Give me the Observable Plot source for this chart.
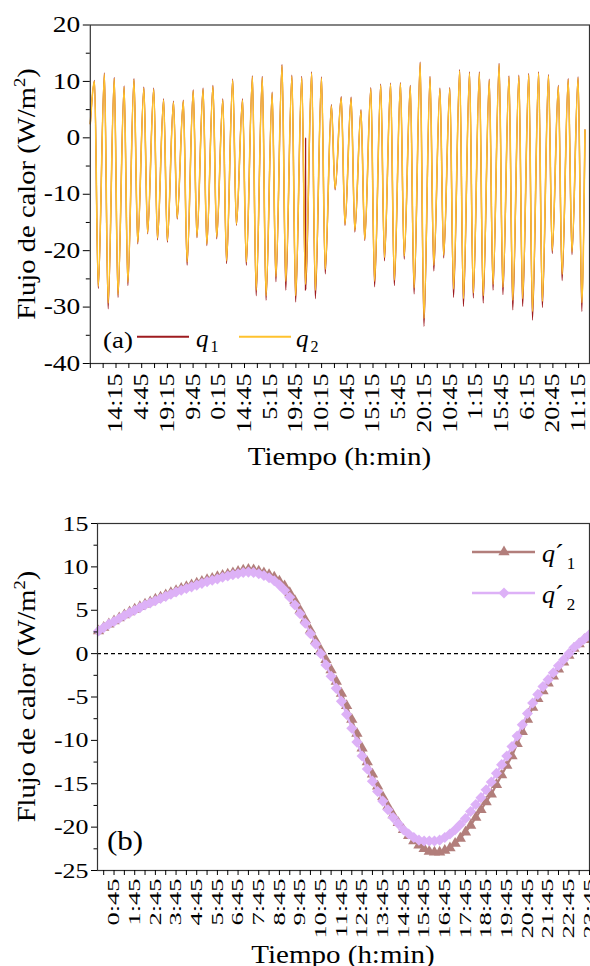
<!DOCTYPE html>
<html><head><meta charset="utf-8">
<script src="https://cdn.jsdelivr.net/npm/d3@7"></script>
<script src="https://cdn.jsdelivr.net/npm/@observablehq/plot@0.6"></script>
<style>
body{margin:0;background:#fff;overflow:hidden}
#wrap{position:relative;width:590px;height:966px;overflow:hidden;background:#fff}
#wrap svg{position:absolute;left:0}
</style></head><body><div id="wrap"></div>
<script>
// ---------- Chart (a): daily extremes of q1 and q2 (W/m2) ----------
const q2Peak = [10.0, 11.3, 10.5, 9.0, 10.3, 8.8, 8.6, 6.7, 6.3, 6.5,
  8.3, 8.6, 9.1, 6.7, 10.2, 6.7, 10.8, 10.7, 7.9, 12.8,
  10.9, 10.7, 11.5, 10.6, 5.7, 7.1, 7.0, 4.8, 8.7, 9.3,
  9.5, 9.6, 9.1, 13.2, 10.7, 8.6, 8.7, 11.9, 11.5, 11.5,
  10.2, 13.0, 10.8, 10.9, 11.2, 11.5, 11.0, 9.1, 10.3, 10.6];
const q1Peak = [10.2, 11.5, 10.7, 9.2, 10.5, 9.0, 8.8, 6.9, 6.5, 6.7,
  8.5, 8.8, 9.3, 6.9, 10.4, 6.9, 11.0, 10.9, 8.1, 13.0,
  11.1, 10.9, 11.7, 10.8, 5.9, 7.3, 7.2, 5.0, 8.9, 9.5,
  9.7, 9.8, 9.3, 13.4, 10.9, 8.8, 8.9, 12.1, 11.7, 11.7,
  10.4, 13.2, 11.0, 11.1, 11.4, 11.7, 11.2, 9.3, 10.5, 10.8];
const q1Trough = [-26.7, -30.3, -28.3, -26.2, -18.8, -17.0, -18.1, -18.5, -14.4, -22.6,
  -17.7, -19.1, -17.9, -22.3, -15.5, -22.6, -28.0, -28.8, -25.5, -27.0,
  -29.1, -27.1, -28.5, -24.1, -9.2, -15.5, -16.7, -18.2, -26.4, -21.8,
  -26.2, -21.5, -27.7, -33.4, -23.6, -21.3, -28.3, -29.9, -28.4, -29.3,
  -27.0, -27.8, -30.5, -29.9, -32.3, -30.1, -20.5, -25.3, -20.7, -30.8];
const q2Trough = [-26.3, -29.3, -27.8, -25.6, -18.5, -16.8, -17.8, -18.2, -14.2, -22.0,
  -17.5, -18.8, -17.6, -21.8, -15.3, -22.0, -27.0, -28.0, -24.6, -25.4,
  -28.0, -26.0, -27.0, -23.3, -9.0, -15.3, -16.4, -18.0, -25.4, -21.2,
  -25.2, -21.0, -26.6, -32.0, -22.6, -20.8, -26.8, -28.5, -27.5, -28.0,
  -26.0, -26.5, -28.8, -28.5, -30.8, -29.0, -20.0, -24.2, -20.2, -29.2];
const seriesStart = [2.5, 2.5];      // q1, q2 first reading (h = 0)
const seriesEnd = [1.4, 1.4];        // q1, q2 last reading
const endHour = 1203;
const peakHour = 10.3, troughHour = 19.3;   // hour of day of extremes
const q1Glitch = [[523.6, 0], [523.9, -26.9]]; // spurious q1 reading (hour, value)
const topXLabels = ["14:15","4:45","19:15","9:45","0:15","14:45","5:15","19:45","10:15","0:45",
  "15:15","5:45","20:15","10:45","1:15","15:45","6:15","20:45","11:15"];
const topLabelStep = 62.5; // hours between labelled ticks
const topYTicks = [-40, -30, -20, -10, 0, 10, 20];
const topYMinor = [-35, -25, -15, -5, 5, 15];

// ---------- Chart (b): mean daily profile q'1, q'2 every 15 min ----------
const q1p = [2.6,3.0,3.4,3.75, 4.1,4.45,4.8,5.1, 5.4,5.7,5.95,6.25, 6.5,6.75,7.0,7.25,
  7.5,7.7,7.9,8.1, 8.3,8.5,8.65,8.85, 9.0,9.15,9.3,9.45, 9.6,9.7,9.65,9.5,
  9.3,9.1,8.8,8.35, 7.8,7.0,6.1,5.0, 3.9,2.7,1.5,0.4, -0.7,-1.9,-3.2,-4.6,
  -6.0,-7.6,-9.2,-10.9, -12.5,-13.9,-15.3,-16.5, -17.6,-18.6,-19.5,-20.3, -21.0,-21.6,-22.1,-22.5,
  -22.8,-22.9,-22.9,-22.7, -22.4,-21.9,-21.3,-20.6, -19.8,-18.9,-18.0,-17.1, -16.2,-15.1,-14.0,-12.9,
  -11.8,-10.4,-9.0,-7.6, -6.2,-5.2,-4.3,-3.4, -2.6,-1.8,-1.0,-0.2, 0.6,1.1,1.6,2.1];
const q2p = [2.6,3.0,3.4,3.7, 4.05,4.4,4.7,5.0, 5.3,5.6,5.85,6.1, 6.35,6.6,6.85,7.1,
  7.3,7.5,7.7,7.9, 8.1,8.3,8.45,8.6, 8.8,8.95,9.1,9.2, 9.35,9.4,9.35,9.2,
  9.0,8.75,8.4,7.9, 7.3,6.5,5.6,4.6, 3.5,2.3,1.1,0.0, -1.3,-2.6,-4.0,-5.5,
  -7.0,-8.6,-10.2,-11.8, -13.3,-14.7,-15.9,-17.0, -18.0,-18.9,-19.6,-20.3, -20.8,-21.2,-21.5,-21.6,
  -21.6,-21.6,-21.5,-21.2, -20.8,-20.3,-19.7,-19.0, -18.2,-17.4,-16.6,-15.7, -14.8,-13.8,-12.8,-11.8,
  -10.7,-9.5,-8.2,-6.9, -5.7,-4.7,-3.8,-3.0, -2.2,-1.4,-0.7,0.0, 0.7,1.2,1.7,2.2];
const stepHours = 0.25;
const botXLabels = ["0:45","1:45","2:45","3:45","4:45","5:45","6:45","7:45","8:45","9:45","10:45","11:45",
  "12:45","13:45","14:45","15:45","16:45","17:45","18:45","19:45","20:45","21:45","22:45","23:45"];
const botYTicks = [-25, -20, -15, -10, -5, 0, 5, 10, 15];
const botYMinor = [-22.5, -17.5, -12.5, -7.5, -2.5, 2.5, 7.5, 12.5];

// ---------- styles ----------
const RED = "#9E1B1F", YEL = "#FFC22E", BROWN = "#B27E7B", VIOLET = "#DDB1F7";

function pickFont(cands) {
  const c = document.createElement("canvas").getContext("2d");
  const probe = "Flujo de calor (W/m) 0123456789 Tiempo";
  c.font = "40px monospace"; const b1 = c.measureText(probe).width;
  c.font = "40px sans-serif"; const b2 = c.measureText(probe).width;
  for (const f of cands) {
    c.font = `40px "${f}", monospace`; const w1 = c.measureText(probe).width;
    c.font = `40px "${f}", sans-serif`; const w2 = c.measureText(probe).width;
    if (w1 !== b1 || w2 !== b2) return f;
  }
  return "serif";
}
const FACE = pickFont(["Liberation Serif", "Times New Roman", "Tinos", "Times", "Nimbus Roman", "FreeSerif", "DejaVu Serif"]);
const FONT = `"${FACE}", serif`;

function buildSeries(peaks, troughs, start, end, extra) {
  const s = [{t: 0, v: start}];
  peaks.forEach((p, d) => {
    s.push({t: 24 * d + peakHour, v: p});
    s.push({t: 24 * d + troughHour, v: troughs[d]});
  });
  s.push({t: endHour, v: end});
  (extra || []).forEach(([t, v]) => s.push({t, v}));
  return s.sort((a, b) => a.t - b.t);
}
const q1Series = buildSeries(q1Peak, q1Trough, seriesStart[0], seriesEnd[0], q1Glitch);
const q2Series = buildSeries(q2Peak, q2Trough, seriesStart[1], seriesEnd[1]);

const topXTicks = topXLabels.map((_, i) => topLabelStep * (i + 1));
const topXMinor = d3.range(0, 1214, topLabelStep / 2).filter(t => !topXTicks.includes(t));
const topLabelMap = new Map(topXTicks.map((t, i) => [t, topXLabels[i]]));

const prof1 = q1p.map((v, i) => ({t: i * stepHours, v}));
const prof2 = q2p.map((v, i) => ({t: i * stepHours, v}));
const botXTicks = botXLabels.map((_, i) => 0.75 + i);
const botXMinor = botXLabels.map((_, i) => 0.25 + i);
const botLabelMap = new Map(botXTicks.map((t, i) => [t, botXLabels[i]]));

const baseStyle = {fontFamily: FONT, color: "#000", background: "transparent", overflow: "visible"};

const topSvg = Plot.plot({
  width: 590, height: 480,
  marginLeft: 89.8, marginRight: 1, marginTop: 24.5, marginBottom: 117,
  style: baseStyle,
  x: {domain: [0, 1214]},
  y: {domain: [-40, 20]},
  marks: [
    Plot.line(q1Series, {x: "t", y: "v", stroke: RED, strokeWidth: 1.3, curve: "monotone-x"}),
    Plot.line(q2Series, {x: "t", y: "v", stroke: YEL, strokeWidth: 1.6, curve: "monotone-x"}),
    Plot.frame({stroke: "#333", strokeWidth: 1.2}),
    Plot.axisY({ticks: topYTicks, tickSize: 7, tickPadding: 3, fontSize: 22.5, tickFormat: d => String(d), label: null}),
    Plot.axisY({ticks: topYMinor, tickSize: 4, tickFormat: () => "", label: null}),
    Plot.axisX({ticks: topXTicks, tickSize: 5, tickPadding: 5, tickRotate: -90, fontSize: 20,
      tickFormat: d => topLabelMap.get(d), label: null}),
    Plot.axisX({ticks: topXMinor, tickSize: 5, tickFormat: () => "", label: null})
  ]
});

const botSvg = Plot.plot({
  width: 590, height: 486,
  marginLeft: 97, marginRight: 1, marginTop: 43, marginBottom: 96,
  style: baseStyle,
  x: {domain: [-0.05, 23.75]},
  y: {domain: [-25, 15]},
  marks: [
    Plot.ruleY([0], {stroke: "#000", strokeWidth: 1.3, strokeDasharray: "4,3"}),
    Plot.line(prof1, {x: "t", y: "v", stroke: BROWN, strokeWidth: 2.2}),
    Plot.dot(prof1, {x: "t", y: "v", symbol: "triangle", fill: BROWN, r: 4.2}),
    Plot.line(prof2, {x: "t", y: "v", stroke: VIOLET, strokeWidth: 2.2}),
    Plot.dot(prof2, {x: "t", y: "v", symbol: "diamond2", fill: VIOLET, r: 5}),
    Plot.frame({stroke: "#333", strokeWidth: 1.2}),
    Plot.axisY({ticks: botYTicks, tickSize: 6, tickPadding: 3, fontSize: 22, tickFormat: d => String(d), label: null}),
    Plot.axisY({ticks: botYMinor, tickSize: 3.5, tickFormat: () => "", label: null}),
    Plot.axisX({ticks: botXTicks, tickSize: 5, tickPadding: 3, tickRotate: -90, fontSize: 16,
      tickFormat: d => botLabelMap.get(d), label: null}),
    Plot.axisX({ticks: botXMinor, tickSize: 5, tickFormat: () => "", label: null})
  ]
});

const wrap = document.getElementById("wrap");
topSvg.style.top = "0px";
botSvg.style.top = "480px";
wrap.appendChild(topSvg);
wrap.appendChild(botSvg);

function stretch(svg, aria, sx, sy) {
  svg.querySelectorAll(`g[aria-label="${aria}"] text`).forEach(t => {
    const tr = t.getAttribute("transform") || "";
    t.setAttribute("transform", tr + ` scale(${sx},${sy})`);
  });
}
stretch(topSvg, "y-axis tick label", 1.22, 1);
stretch(botSvg, "y-axis tick label", 1.18, 1);
stretch(topSvg, "x-axis tick label", 1.3, 1);
stretch(botSvg, "x-axis tick label", 1.65, 1);

function addText(svg, x, y, o) {
  const t = d3.select(svg).append("text")
    .attr("transform", `translate(${x},${y})` + (o.rotate ? ` rotate(${o.rotate})` : "") + ` scale(${o.sx || 1},1)`)
    .attr("font-family", FONT).attr("font-size", o.size)
    .attr("text-anchor", o.anchor || "start").attr("fill", "#000");
  for (const p of o.parts) {
    const s = t.append("tspan").text(p.t);
    if (p.size) s.attr("font-size", p.size);
    if (p.dy) s.attr("dy", p.dy);
    if (p.dx) s.attr("dx", p.dx);
    if (p.italic) s.attr("font-style", "italic");
  }
}
function addLine(svg, x1, x2, y, color, w) {
  d3.select(svg).append("line").attr("x1", x1).attr("x2", x2).attr("y1", y).attr("y2", y)
    .attr("stroke", color).attr("stroke-width", w);
}
function addSymbol(svg, x, y, sym, r, color) {
  d3.select(svg).append("path").attr("transform", `translate(${x},${y})`)
    .attr("d", d3.symbol(sym, Math.PI * r * r)()).attr("fill", color);
}
const yTitle = [{t: "Flujo de calor (W/m"}, {t: "2", size: 17, dy: -10}, {t: ")", dy: 10}];

// chart (a) annotations
addText(topSvg, 35, 194, {size: 26, anchor: "middle", rotate: -90, sx: 1.1, parts: yTitle});
addText(topSvg, 339.5, 465, {size: 25, anchor: "middle", sx: 1.16, parts: [{t: "Tiempo (h:min)"}]});
addText(topSvg, 103, 348, {size: 23, sx: 1.17, parts: [{t: "(a)"}]});
addLine(topSvg, 137, 189, 336.7, RED, 2);
addText(topSvg, 196, 347, {size: 25, parts: [{t: "q", italic: true}, {t: "1", size: 16, dy: 5, dx: 2}]});
addLine(topSvg, 239, 291, 336.7, YEL, 2);
addText(topSvg, 296, 347, {size: 25, parts: [{t: "q", italic: true}, {t: "2", size: 16, dy: 5, dx: 2}]});

// chart (b) annotations
addText(botSvg, 35, 216.5, {size: 26, anchor: "middle", rotate: -90, sx: 1.1, parts: yTitle});
addText(botSvg, 343, 483, {size: 25, anchor: "middle", sx: 1.16, parts: [{t: "Tiempo (h:min)"}]});
addText(botSvg, 107, 370, {size: 27, sx: 1.15, parts: [{t: "(b)"}]});
addLine(botSvg, 472, 535, 72, BROWN, 2.5);
addSymbol(botSvg, 504, 72, d3.symbolTriangle, 4.2, BROWN);
addText(botSvg, 542, 82, {size: 26, parts: [{t: "q", italic: true}, {t: "´"}, {t: "1", size: 17, dy: 7, dx: 3}]});
addLine(botSvg, 472, 535, 113, VIOLET, 2.5);
addSymbol(botSvg, 504, 113, d3.symbolDiamond2, 5, VIOLET);
addText(botSvg, 542, 123, {size: 26, parts: [{t: "q", italic: true}, {t: "´"}, {t: "2", size: 17, dy: 7, dx: 3}]});
</script></body></html>
